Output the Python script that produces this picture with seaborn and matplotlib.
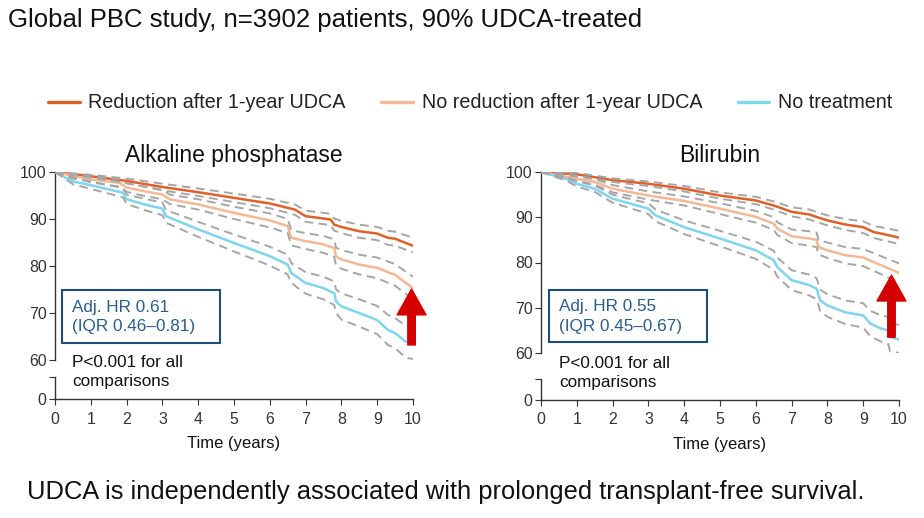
import numpy as np
import pandas as pd
import seaborn as sns
import matplotlib.pyplot as plt
from matplotlib.lines import Line2D
from matplotlib.patches import Rectangle

# ---- data ----
series_names = ["Reduction after 1-year UDCA", "No reduction after 1-year UDCA", "No treatment"]
series_colors = ["#e0602a", "#f5b896", "#7fd4ee"]

# Alkaline phosphatase panel
alp_t_red = [0, 1, 2, 3, 4, 5, 6, 6.7, 7.0, 7.7, 7.8, 8, 8.5, 9, 9.3, 9.5, 10]
alp_s_red = [100, 99.1, 98.1, 96.8, 95.7, 94.5, 93.3, 92.0, 90.6, 89.9, 88.8, 88.3, 87.4, 86.9, 86.0, 85.8, 84.3]
alp_hi_red = [100, 99.4, 98.6, 97.5, 96.5, 95.4, 94.3, 93.1, 91.8, 91.1, 90.1, 89.6, 88.8, 88.3, 87.5, 87.3, 86.0]
alp_lo_red = [100, 98.8, 97.6, 96.1, 94.9, 93.6, 92.3, 90.9, 89.4, 88.7, 87.5, 87.0, 86.0, 85.5, 84.5, 84.3, 82.9]

alp_t_nored = [0, 1, 1.8, 2, 2.5, 3, 3.2, 4, 5, 6, 6.5, 6.6, 7, 7.5, 7.8, 7.85, 8, 8.5, 9, 9.5, 10]
alp_s_nored = [100, 98.4, 97.7, 96.7, 95.9, 95.2, 94.2, 93.1, 91.3, 89.7, 88.5, 86.0, 85.3, 84.6, 83.8, 82.0, 81.4, 80.3, 79.6, 78.1, 75.3]
alp_hi_nored = [100, 99.0, 98.5, 97.6, 96.9, 96.2, 95.2, 94.2, 92.6, 91.2, 90.0, 87.6, 87.0, 86.4, 85.7, 83.9, 83.4, 82.4, 81.8, 80.4, 77.7]
alp_lo_nored = [100, 97.8, 96.9, 95.8, 94.9, 94.2, 93.2, 92.0, 90.0, 88.2, 87.0, 84.4, 83.6, 82.8, 81.9, 80.1, 79.4, 78.2, 77.4, 75.8, 72.9]

alp_t_none = [0, 0.5, 1, 1.5, 1.9, 2, 2.5, 3, 3.1, 4, 5, 6, 6.5, 6.6, 7, 7.5, 7.8, 7.85, 8, 8.5, 9, 9.3, 9.5, 9.8, 10]
alp_s_none = [100, 98.0, 97.2, 96.3, 95.6, 94.2, 93.1, 92.2, 90.6, 87.8, 84.9, 82.1, 80.3, 78.5, 76.4, 75.3, 74.2, 72.5, 71.4, 70.0, 68.5, 66.4, 65.7, 63.9, 63.6]
alp_hi_none = [100, 98.6, 98.0, 97.2, 96.6, 95.2, 94.3, 93.5, 91.9, 89.4, 86.7, 84.1, 82.4, 80.6, 78.7, 77.7, 76.7, 75.0, 74.2, 72.9, 71.5, 69.6, 68.9, 67.3, 67.0]
alp_lo_none = [100, 97.4, 96.4, 95.4, 94.6, 93.2, 91.9, 90.8, 89.2, 86.2, 83.1, 80.1, 78.2, 76.4, 74.1, 72.9, 71.7, 70.0, 68.6, 67.1, 65.5, 63.2, 62.5, 60.5, 60.2]

# Bilirubin panel
bil_t_red = [0, 1, 2, 3, 4, 5, 6, 6.5, 7, 7.5, 7.8, 8, 8.5, 9, 9.3, 9.5, 10]
bil_s_red = [100, 99.5, 98.2, 97.4, 96.3, 94.8, 93.7, 92.6, 91.2, 90.6, 89.8, 89.3, 88.4, 87.8, 86.7, 86.4, 85.5]
bil_hi_red = [100, 99.8, 98.6, 97.9, 96.9, 95.5, 94.5, 93.5, 92.2, 91.7, 90.9, 90.4, 89.6, 89.1, 88.0, 87.8, 87.0]
bil_lo_red = [100, 99.2, 97.8, 96.9, 95.7, 94.1, 92.9, 91.7, 90.2, 89.5, 88.7, 88.2, 87.2, 86.5, 85.4, 85.0, 84.1]

bil_t_nored = [0, 1, 1.5, 2, 3, 4, 5, 6, 6.5, 6.6, 7, 7.5, 7.7, 7.75, 8, 8.5, 9, 9.5, 10]
bil_s_nored = [100, 98.5, 97.8, 96.3, 94.8, 93.6, 91.9, 90.1, 88.6, 87.5, 85.8, 85.3, 85.0, 83.4, 82.7, 81.6, 81.1, 79.4, 77.7]
bil_hi_nored = [100, 99.0, 98.4, 97.1, 95.7, 94.6, 93.1, 91.4, 90.0, 88.9, 87.3, 86.9, 86.6, 85.0, 84.4, 83.4, 83.0, 81.4, 79.8]
bil_lo_nored = [100, 98.0, 97.2, 95.5, 93.9, 92.6, 90.7, 88.8, 87.2, 86.1, 84.3, 83.7, 83.4, 81.8, 81.0, 79.8, 79.2, 77.4, 75.6]

bil_t_none = [0, 0.7, 1, 1.5, 2, 2.5, 3, 3.2, 4, 5, 6, 6.5, 6.6, 7, 7.5, 7.7, 7.8, 8, 8.5, 9, 9.2, 9.5, 9.7, 9.75, 10]
bil_s_none = [100, 98.5, 97.4, 96.3, 94.1, 93.0, 91.9, 90.4, 87.8, 85.3, 82.7, 80.5, 79.0, 76.1, 75.0, 74.2, 71.6, 70.5, 69.0, 68.3, 66.5, 65.4, 65.0, 63.5, 63.0]
bil_hi_none = [100, 98.9, 98.0, 97.0, 95.0, 94.0, 93.1, 91.7, 89.3, 87.0, 84.6, 82.6, 81.1, 78.3, 77.3, 76.5, 74.0, 73.0, 71.6, 71.0, 69.3, 68.3, 68.0, 66.6, 66.2]
bil_lo_none = [100, 98.1, 96.8, 95.6, 93.2, 92.0, 90.7, 89.1, 86.3, 83.6, 80.8, 78.4, 76.9, 73.9, 72.7, 71.9, 69.2, 68.0, 66.4, 65.6, 63.7, 62.5, 62.0, 60.4, 60.0]

panel_titles = ["Alkaline phosphatase", "Bilirubin"]
hr_labels = ["Adj. HR 0.61\n(IQR 0.46\u20130.81)", "Adj. HR 0.55\n(IQR 0.45\u20130.67)"]
arrow_x = [9.96, 9.79]
arrow_base = [63.2, 63.5]
arrow_tip = [75.1, 77.2]

panels = [
    [(alp_t_red, alp_s_red, alp_hi_red, alp_lo_red),
     (alp_t_nored, alp_s_nored, alp_hi_nored, alp_lo_nored),
     (alp_t_none, alp_s_none, alp_hi_none, alp_lo_none)],
    [(bil_t_red, bil_s_red, bil_hi_red, bil_lo_red),
     (bil_t_nored, bil_s_nored, bil_hi_nored, bil_lo_nored),
     (bil_t_none, bil_s_none, bil_hi_none, bil_lo_none)],
]

# ---- style ----
sns.set_style("ticks")
plt.rcParams['font.family'] = ['Liberation Sans', 'DejaVu Sans']
plt.rcParams['axes.linewidth'] = 1.0
plt.rcParams['axes.edgecolor'] = '#333333'

fig = plt.figure(figsize=(9.24, 5.18), dpi=100)
W, H = 924, 518

# axes rectangles in pixels: (left, right, top, bottom) for upper and lower part
top_px = [(55, 413, 172, 360), (541, 899, 172, 353)]
low_px = [(55, 413, 377, 399), (541, 899, 379, 400)]
box_px = [(62, 220, 290, 343), (549, 707, 290, 342)]
p_px = [(72, 355), (559, 356)]

gray = '#a6a6a6'
for i in range(2):
    l, r, t, b = top_px[i]
    ax = fig.add_axes([l / W, (H - b) / H, (r - l) / W, (b - t) / H])
    l2, r2, t2, b2 = low_px[i]
    axl = fig.add_axes([l2 / W, (H - b2) / H, (r2 - l2) / W, (b2 - t2) / H])

    for (tt, ss, hi, lo), col in zip(panels[i], series_colors):
        sns.lineplot(x=tt, y=ss, ax=ax, color=col, lw=1.8, zorder=3)
    for (tt, ss, hi, lo) in panels[i]:
        for band in (hi, lo):
            sns.lineplot(x=tt, y=band, ax=ax, color=gray, lw=1.4,
                         linestyle=(0, (4.5, 2.8)), zorder=4)

    ax.set_xlim(0, 10)
    ax.set_ylim(60, 100)
    ax.set_yticks([60, 70, 80, 90, 100])
    ax.set_xticks([])
    for s in ['top', 'right', 'bottom']:
        ax.spines[s].set_visible(False)
    ax.tick_params(axis='y', length=4, labelsize=11.4, colors='#333333', pad=2)
    ax.set_xlabel('')
    ax.set_ylabel('')
    ax.set_title(panel_titles[i], fontsize=16.5, pad=7, color='#111111')

    # red arrow
    ax.annotate('', xy=(arrow_x[i], arrow_tip[i]), xytext=(arrow_x[i], arrow_base[i]),
                arrowprops=dict(arrowstyle='simple,head_length=0.93,head_width=1.04,tail_width=0.27',
                                mutation_scale=20, color='#d40000', shrinkA=0, shrinkB=0),
                zorder=6)

    # lower (broken) axis
    axl.set_xlim(0, 10)
    axl.set_ylim(0, 4.7)
    axl.set_yticks([0, 4.7])
    axl.set_yticklabels(['0', ''])
    axl.set_xticks(range(0, 11))
    for s in ['top', 'right']:
        axl.spines[s].set_visible(False)
    axl.tick_params(axis='y', length=4, labelsize=11.4, colors='#333333', pad=2)
    axl.tick_params(axis='x', length=4, labelsize=11.4, colors='#333333', pad=5)
    axl.set_xlabel('Time (years)', fontsize=12, color='#111111', labelpad=7)

    # HR box
    bl, br, bt, bb = box_px[i]
    fig.patches.append(Rectangle((bl / W, (H - bb) / H), (br - bl) / W, (bb - bt) / H,
                                 transform=fig.transFigure, fill=False,
                                 edgecolor='#1f4e79', lw=1.5, zorder=5))
    fig.text((bl + 10) / W, (H - (bt + bb) / 2 - 0.5) / H, hr_labels[i], fontsize=12.3,
             color='#2a5d8c', va='center', ha='left', linespacing=1.35)

    fig.text(p_px[i][0] / W, (H - p_px[i][1]) / H, "P<0.001 for all\ncomparisons",
             fontsize=12.3, color='#111111', va='top', ha='left', linespacing=1.35)

# legend
handles = [Line2D([0], [0], color=c, lw=2.4) for c in series_colors]
fig.legend(handles, series_names, loc='center left', bbox_to_anchor=(48 / W, (H - 103) / H),
           ncol=3, frameon=False, fontsize=14.2, handlelength=1.6, handletextpad=0.45,
           columnspacing=1.8, borderpad=0, borderaxespad=0, labelcolor='#222222')

fig.text(8 / W, (H - 20) / H, "Global PBC study, n=3902 patients, 90% UDCA-treated",
         fontsize=18.5, color='#111111', va='center', ha='left')
fig.text(446 / W, (H - 492) / H,
         "UDCA is independently associated with prolonged transplant-free survival.",
         fontsize=18.4, color='#111111', va='center', ha='center')

fig.savefig('out.png', dpi=100)
